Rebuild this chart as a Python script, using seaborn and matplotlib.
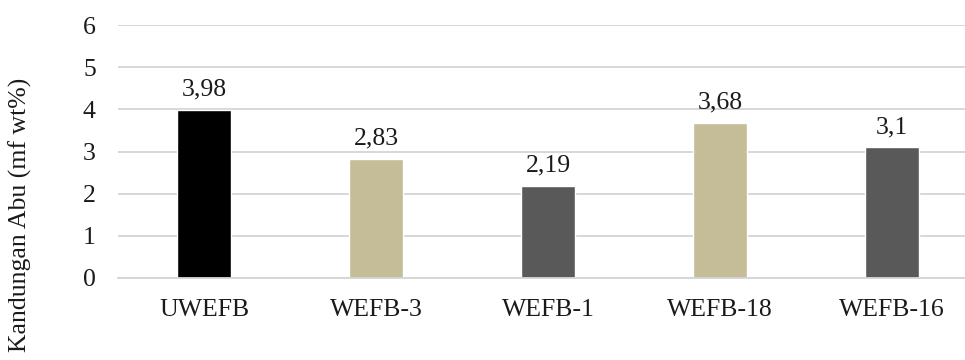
import matplotlib
matplotlib.use("Agg")
import matplotlib.pyplot as plt
import seaborn as sns
import pandas as pd

# data
sampel = ["UWEFB", "WEFB-3", "WEFB-1", "WEFB-18", "WEFB-16"]
abu = [3.98, 2.83, 2.19, 3.68, 3.1]
label_nilai = ["3,98", "2,83", "2,19", "3,68", "3,1"]
warna = ["#000000", "#C4BD97", "#595959", "#C4BD97", "#595959"]

sns.set_style("white")
plt.rcParams["font.family"] = ["Liberation Serif", "DejaVu Serif"]

df = pd.DataFrame({"sampel": sampel, "abu": abu})

fig = plt.figure(figsize=(9.65, 3.6), dpi=100)
ax = fig.add_axes([118 / 965, 1 - 278 / 360, (978 - 118) / 965, (278 - 25) / 360])

sns.barplot(data=df, x="sampel", y="abu", hue="sampel", palette=warna,
            width=0.31, legend=False, ax=ax, saturation=1)

# label nilai di atas batang
for i, (v, t) in enumerate(zip(abu, label_nilai)):
    ax.text(i, v + 0.22, t, ha="center", va="bottom", fontsize=18.5, color="#1a1a1a")

ax.set_ylim(0, 6)
ax.set_yticks(range(0, 7))
ax.yaxis.grid(True, color="#D4D4D4", linewidth=1.3)
ax.set_axisbelow(True)
for s in ["left", "right", "top"]:
    ax.spines[s].set_visible(False)
ax.spines["bottom"].set_color("#D4D4D4")
ax.spines["bottom"].set_linewidth(1.3)
ax.tick_params(axis="both", length=0, labelsize=18.5, colors="#1a1a1a")
ax.tick_params(axis="y", pad=16)
ax.tick_params(axis="x", pad=15)
ax.set_xlabel("")
ax.set_ylabel("Kandungan Abu (mf wt%)", fontsize=18.5, color="#1a1a1a")
ax.yaxis.set_label_coords(-0.1, 0.25)

fig.savefig("out.png", dpi=100)
